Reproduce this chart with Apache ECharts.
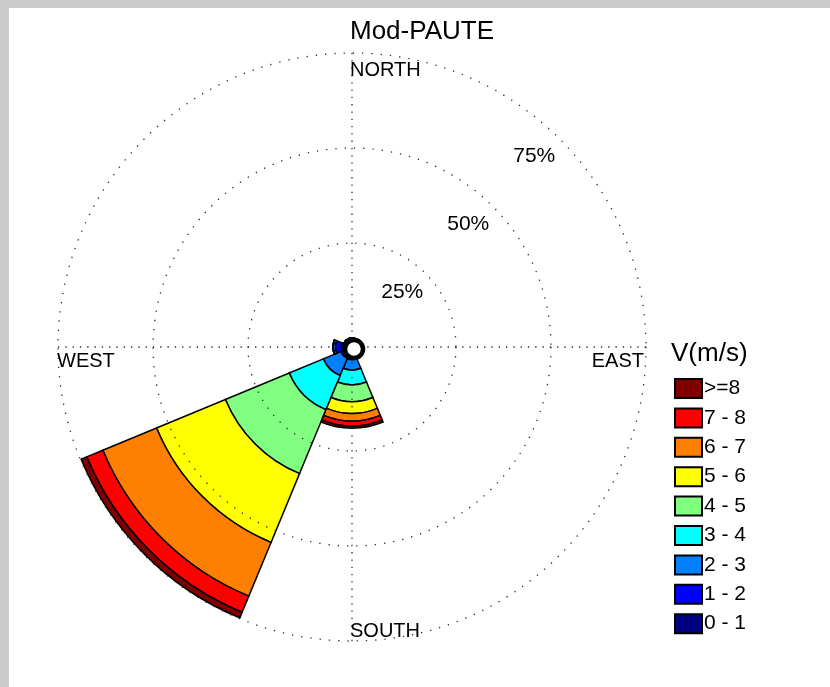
<!DOCTYPE html>
<html>
<head>
<meta charset="utf-8">
<script src="https://cdn.jsdelivr.net/npm/echarts@6/dist/echarts.min.js"></script>
<style>
  html, body { margin: 0; padding: 0; background: #ffffff; }
  #chart { width: 830px; height: 687px; }
</style>
</head>
<body>
<div id="chart"></div>
<script>
// Wind directions (8 sectors, clockwise from north)
const directions = ['N', 'NE', 'E', 'SE', 'S', 'SW', 'W', 'NW'];
// Speed classes, innermost first
const speedBins = ['0 - 1', '1 - 2', '2 - 3', '3 - 4', '4 - 5', '5 - 6', '6 - 7', '7 - 8', '>=8'];
const binColors = ['#000080', '#0000ff', '#0080ff', '#00ffff', '#80ff80', '#ffff00', '#ff8000', '#ff0000', '#800000'];

// Frequency of occurrence (%) per direction, one array per speed class
const freq0to1 = [0, 0, 0, 0, 0.2, 0.2, 0.5, 0];
const freq1to2 = [0, 0, 0, 0, 0.8, 0.6, 1.5, 0];
const freq2to3 = [0, 0, 0, 0, 2.7, 5.0, 0.6, 0];
const freq3to4 = [0, 0, 0, 0, 3.9, 9.7, 0, 0];
const freq4to5 = [0, 0, 0, 0, 4.4, 18.2, 0, 0];
const freq5to6 = [0, 0, 0, 0, 3.1, 19.6, 0, 0];
const freq6to7 = [0, 0, 0, 0, 2.0, 15.3, 0, 0];
const freq7to8 = [0, 0, 0, 0, 1.3, 4.6, 0, 0];
const freq8up  = [0, 0, 0, 0, 0.6, 1.6, 0, 0];

// Percentage rings
const pctTicks = [25, 50, 75];
const compassLabels = ['NORTH', 'EAST', 'SOUTH', 'WEST'];

const binData = [freq0to1, freq1to2, freq2to3, freq3to4, freq4to5, freq5to6, freq6to7, freq7to8, freq8up];

const FONT = '"Liberation Sans", Arial, Helvetica, sans-serif';
const cx = 352, cy = 347;          // rose centre
const rInner = 9, rOuter = 294;    // radius of 0 % and of the outermost ring
const ringStep = pctTicks[1] - pctTicks[0];
const ringMax = pctTicks[pctTicks.length - 1];
const dotted = { color: '#2a2a2a', width: 1.3, type: [1.3, 8] };

const chart = echarts.init(document.getElementById('chart'), null, { renderer: 'canvas' });

const series = speedBins.map((name, i) => ({
  name: name,
  type: 'bar',
  coordinateSystem: 'polar',
  polarIndex: 0,
  stack: 'rose',
  barCategoryGap: '0%',
  data: binData[i],
  itemStyle: { color: binColors[i], borderColor: '#000', borderWidth: 1.5 },
  emphasis: { disabled: true },
  animation: false
}));

const hiddenAxisParts = {
  axisLine: { show: false },
  axisTick: { show: false },
  axisLabel: { show: false },
  splitLine: { show: false },
  splitArea: { show: false }
};

const option = {
  backgroundColor: '#ffffff',
  animation: false,
  title: [
    {
      text: 'Mod-PAUTE',
      left: 422, top: 19, textAlign: 'center', padding: 0,
      textStyle: { fontFamily: FONT, fontSize: 26, fontWeight: 'normal', color: '#000' }
    },
    {
      text: 'V(m/s)',
      left: 671, top: 341, padding: 0,
      textStyle: { fontFamily: FONT, fontSize: 26, fontWeight: 'normal', color: '#000' }
    }
  ],
  legend: {
    orient: 'vertical',
    left: 674, top: 378,
    padding: 0,
    itemWidth: 27, itemHeight: 19, itemGap: 8.4,
    icon: 'rect',
    selectedMode: false,
    data: speedBins.slice().reverse(),
    itemStyle: { borderColor: '#000', borderWidth: 2 },
    textStyle: { fontFamily: FONT, fontSize: 21, color: '#000', padding: [0, 0, 0, -3] }
  },
  polar: [
    { center: [cx, cy], radius: [rInner, rOuter] },
    { center: [cx, cy], radius: [rInner, rOuter] },
    { center: [cx, cy], radius: [rInner, rOuter] }
  ],
  angleAxis: [
    Object.assign({
      polarIndex: 0, type: 'category', data: directions,
      startAngle: 90 + 180 / directions.length, clockwise: true, boundaryGap: true
    }, hiddenAxisParts),
    Object.assign({}, hiddenAxisParts, {
      polarIndex: 1, type: 'value', min: 0, max: 360, interval: 90,
      startAngle: 90, clockwise: true, z: 10,
      splitLine: { show: true, lineStyle: { color: '#2a2a2a', width: 1.3, type: [1.3, 6] } }
    }),
    Object.assign({
      polarIndex: 2, type: 'value', min: 0, max: 360, startAngle: 46, clockwise: true
    }, hiddenAxisParts)
  ],
  radiusAxis: [
    Object.assign({}, hiddenAxisParts, {
      polarIndex: 0, type: 'value', min: 0, max: ringMax, interval: ringStep, z: 10,
      splitLine: { show: true, lineStyle: dotted }
    }),
    Object.assign({
      polarIndex: 1, type: 'value', min: 0, max: ringMax, interval: ringStep
    }, hiddenAxisParts),
    Object.assign({}, hiddenAxisParts, {
      polarIndex: 2, type: 'value', min: 0, max: ringMax, interval: ringStep, z: 10,
      axisLabel: {
        show: true, showMinLabel: false, margin: 0,
        align: 'right', verticalAlign: 'top', padding: [10, 1, 0, 0],
        fontFamily: FONT, fontSize: 21, color: '#000',
        formatter: v => (pctTicks.indexOf(v) >= 0 ? v + '%' : '')
      }
    })
  ],
  graphic: [
    // window frame
    { type: 'rect', left: 0, top: 0, shape: { width: 830, height: 8 }, style: { fill: '#cccccc' }, z: 100, silent: true },
    { type: 'rect', left: 0, top: 0, shape: { width: 9, height: 687 }, style: { fill: '#cccccc' }, z: 100, silent: true },
    // compass labels
    { type: 'text', x: cx - 2, y: cy - rOuter + 7, z: 20, silent: true,
      style: { text: compassLabels[0], font: '20px ' + FONT, fill: '#000', textAlign: 'left', textVerticalAlign: 'top' } },
    { type: 'text', x: cx + rOuter - 2, y: cy + 4, z: 20, silent: true,
      style: { text: compassLabels[1], font: '20px ' + FONT, fill: '#000', textAlign: 'right', textVerticalAlign: 'top' } },
    { type: 'text', x: cx - 2, y: cy + rOuter - 20, z: 20, silent: true,
      style: { text: compassLabels[2], font: '20px ' + FONT, fill: '#000', textAlign: 'left', textVerticalAlign: 'top' } },
    { type: 'text', x: cx - rOuter - 1, y: cy + 4, z: 20, silent: true,
      style: { text: compassLabels[3], font: '20px ' + FONT, fill: '#000', textAlign: 'left', textVerticalAlign: 'top' } },
    // centre marker
    { type: 'circle', x: cx + 2, y: cy + 2, z: 30, silent: true,
      shape: { cx: 0, cy: 0, r: 9 },
      style: { fill: '#ffffff', stroke: '#000000', lineWidth: 4.5 } }
  ],
  series: series
};

chart.setOption(option);
</script>
</body>
</html>
